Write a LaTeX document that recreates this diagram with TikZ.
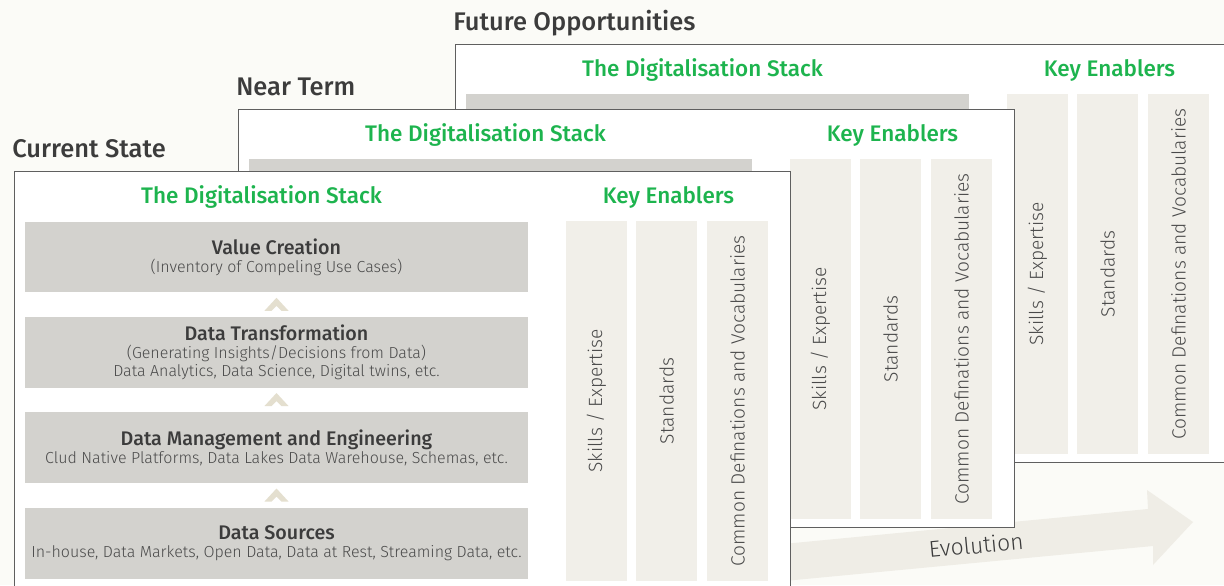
\documentclass[tikz,border=0pt]{standalone}
\usepackage{fontspec}
\setmainfont{Fira Sans}[UprightFont={* Light},BoldFont={* Medium}]
\usetikzlibrary{calc}
\definecolor{bgcol}{HTML}{FBFBF7}
\definecolor{framecol}{HTML}{5F5F5F}
\definecolor{stackgray}{HTML}{D3D2CE}
\definecolor{enablercol}{HTML}{F1EFE9}
\definecolor{chevcol}{HTML}{E4DFCF}
\definecolor{evocol}{HTML}{EFEDE6}
\definecolor{headgreen}{HTML}{1DB44E}
\definecolor{darktext}{HTML}{3C3C3C}
\definecolor{subtext}{HTML}{4A4A4A}
\tikzset{
	panelframe/.style={draw=framecol,line width=0.8pt,fill=white,anchor=north west,
		minimum width=15.52cm,minimum height=8.36cm,inner sep=0pt},
	paneltitle/.style={anchor=base west,text=darktext,inner sep=0pt,
		font=\fontsize{14.5}{17}\selectfont\bfseries},
	stackhead/.style={anchor=base,text=headgreen,inner sep=0pt,
		font=\fontsize{12.8}{15}\selectfont\bfseries},
	stackbox/.style={fill=stackgray,minimum width=10.06cm,minimum height=1.42cm,
		inner sep=0pt,align=center,text=subtext,font=\fontsize{9.1}{10.2}\selectfont},
	enabler/.style={fill=enablercol,rotate=90,minimum width=7.2cm,minimum height=1.22cm,
		inner sep=0pt,text=subtext,font=\fontsize{10.9}{12}\selectfont},
	evolabel/.style={text=darktext,inner sep=0pt,font=\fontsize{13}{15}\selectfont},
	chevron/.pic={\fill[chevcol] (-12,6) -- (0,-7) -- (12,6) -- (5,6) -- (0,1) -- (-5,6) -- cycle;}
}
\newcommand{\boxtitle}[1]{{\fontsize{11.2}{10.2}\selectfont\bfseries\color{darktext}#1}}

\begin{document}
\begin{tikzpicture}[x=0.02cm,y=-0.02cm]
\fill[bgcol] (0,0) rectangle (1224,585);
\useasboundingbox (0,0) rectangle (1224,585);
\clip (0,0) rectangle (1224,585);

% evolution arrow behind the panels
\fill[evocol] (700,552) -- (1148,509) -- (1147,490) -- (1193,522) -- (1153,565)
	-- (1153,546) -- (700,589) -- cycle;
\node[evolabel,rotate=5.4] (evo) at (976,545) {Evolution};

\foreach \p/\px/\py/\ttl in {3/455/44/Future Opportunities,2/238/109/Near Term,1/14/171/Current State} {
	\begin{scope}[shift={(\px,\py)}]
		\node[panelframe] (frame\p) at (0,0) {};
		\node[paneltitle] (title\p) at (-2,-14) {\ttl};
		\node[stackhead] (stack\p) at (247.5,32) {The Digitalisation Stack};
		\node[stackhead] (keys\p) at (654.5,32) {Key Enablers};
		\node[enabler] (skills\p) at (582.5,230) {Skills / Expertise};
		\node[enabler] (stds\p) at (652.5,230) {Standards};
		\node[enabler] (common\p) at (723.5,230) {Common Definations and Vocabularies};
		\ifnum\p>1
			\fill[stackgray] (11,50) rectangle (514,121);
		\fi
	\end{scope}
}

\node[stackbox] (valcr) at (276.5,257) {\boxtitle{Value Creation}\\(Inventory of Compeling Use Cases)};
\node[stackbox] (datatr) at (276.5,352.5) {\boxtitle{Data Transformation}\\(Generating Insights/Decisions from Data)\\Data Analytics, Data Science, Digital twins, etc.};
\node[stackbox] (datamg) at (276.5,447.5) {\boxtitle{Data Management and Engineering}\\Clud Native Platforms, Data Lakes Data Warehouse, Schemas, etc.};
\node[stackbox] (datasrc) at (276.5,543.5) {\boxtitle{Data Sources}\\In-house, Data Markets, Open Data, Data at Rest, Streaming Data, etc.};

\pic at ($(valcr.south)!0.5!(datatr.north)$) {chevron};
\pic at ($(datatr.south)!0.5!(datamg.north)$) {chevron};
\pic at ($(datamg.south)!0.5!(datasrc.north)$) {chevron};
\end{tikzpicture}
\end{document}
